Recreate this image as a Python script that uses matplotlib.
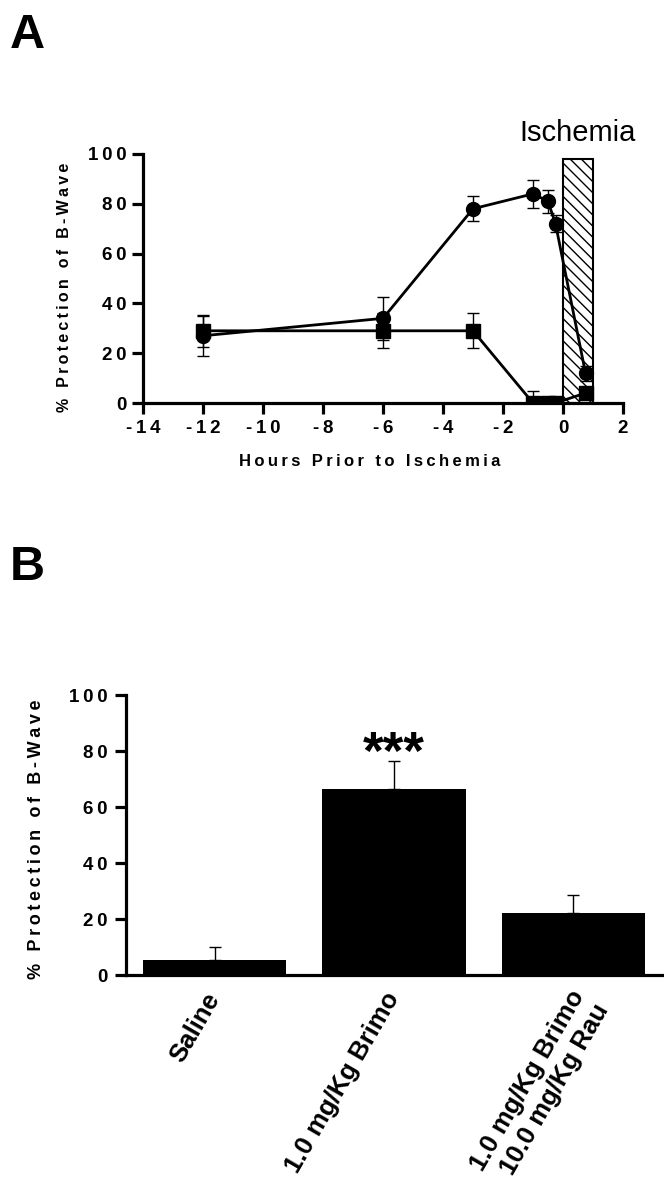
import matplotlib
matplotlib.use("Agg")
import matplotlib.pyplot as plt
from matplotlib.ticker import FuncFormatter
import numpy as np

plt.rcParams["font.family"] = ["Liberation Sans", "DejaVu Sans"]
plt.rcParams["hatch.linewidth"] = 1.0
plt.rcParams["axes.unicode_minus"] = False

# Panel A: time course, hours prior to ischemia
circle_x = [-12, -6, -3, -1, -0.5, -0.25, 0.75]
circle_y = [27, 34, 78, 84, 81, 72, 12]
circle_err = [8, 8.5, 5, 5.5, 4.5, 3.5, 3]

square_x = [-12, -6, -3, -1, -0.5, -0.25, 0.75]
square_y = [29, 29, 29, 0, 0, 0, 4]
square_err = [6.5, 7, 7, 4.7, 0, 0, 2]

ischemia_start = 0
ischemia_len = 1
ischemia_top = 98

# Panel B: bar chart
groups = ["Saline", "1.0 mg/Kg Brimo", "1.0 mg/Kg Brimo\n10.0 mg/Kg Rau"]
bar_vals = [5.4, 66.5, 22.3]
bar_err = [4.6, 10, 6.2]

THIN = "\u2009"


def spaced(s, gap=THIN):
    return gap.join(s)


tick_fmt = FuncFormatter(lambda v, p: spaced(f"{v:g}"))
spine_w = 2.3

fig = plt.figure(figsize=(6.64, 11.93), dpi=100)

# ---- A
ax = fig.add_axes([143 / 664, 1 - 403 / 1193, 480 / 664, 249 / 1193])
ax.bar(ischemia_start, ischemia_top, width=ischemia_len, align="edge",
       facecolor="white", edgecolor="black", hatch="\\\\\\", linewidth=1.5, zorder=1)
ax.errorbar(circle_x, circle_y, yerr=circle_err, fmt="-o", color="black",
            ms=10, lw=2, elinewidth=1, capsize=4, capthick=1, zorder=3)
ax.errorbar(square_x, square_y, yerr=square_err, fmt="-s", color="black",
            ms=10, lw=2, elinewidth=1, capsize=4, capthick=1, zorder=3)
ax.set_xlim(-14, 2)
ax.set_ylim(0, 100)
ax.set_xticks(np.arange(-14, 3, 2))
ax.set_yticks(np.arange(0, 101, 20))
ax.xaxis.set_major_formatter(tick_fmt)
ax.yaxis.set_major_formatter(tick_fmt)
for s in ["top", "right"]:
    ax.spines[s].set_visible(False)
for s in ["left", "bottom"]:
    ax.spines[s].set_linewidth(spine_w)
ax.tick_params(width=spine_w, length=8, direction="out", pad=4,
               labelsize=13.5)
for lab in ax.get_xticklabels() + ax.get_yticklabels():
    lab.set_fontweight("bold")
ax.set_xlabel(spaced("Hours Prior to Ischemia"), fontsize=12, fontweight="bold")
ax.xaxis.set_label_coords(0.473, -0.205)
ax.set_ylabel(spaced("% Protection of B-Wave"), fontsize=11.5, fontweight="bold")
ax.yaxis.set_label_coords(-0.148, 0.466)
ax.text(0.5, 103, "Ischemia", fontsize=21, ha="center", va="bottom", clip_on=False)

fig.text(10 / 664, 1 - 48 / 1193, "A", fontsize=35, fontweight="bold", va="baseline")
fig.text(10 / 664, 1 - 580 / 1193, "B", fontsize=35, fontweight="bold", va="baseline")

# ---- B
bx = fig.add_axes([126 / 664, 1 - 975 / 1193, 538 / 664, 280 / 1193])
pos = np.arange(len(groups))
bx.bar(pos, bar_vals, width=0.8, color="black",
       yerr=[np.zeros(len(bar_err)), bar_err],
       error_kw=dict(elinewidth=1, capsize=4, capthick=1, ecolor="black"))
bx.set_xlim(-0.494, 2.506)
bx.set_ylim(0, 100)
bx.set_yticks(np.arange(0, 101, 20))
bx.yaxis.set_major_formatter(tick_fmt)
bx.set_xticks(pos)
label_kw = dict(rotation=60, ha="right", va="center", rotation_mode="anchor",
                fontsize=18.5, fontweight="bold")
# the two-line label sits a bit further right in the original, so it is
# drawn separately with an offset
bx.set_xticklabels(groups[:2] + [""], **label_kw)
bx.annotate(groups[2], xy=(pos[2], 0), xycoords=("data", "axes fraction"),
            xytext=(13, -17), textcoords="offset points",
            multialignment="right", **label_kw)
for s in ["top", "right"]:
    bx.spines[s].set_visible(False)
for s in ["left", "bottom"]:
    bx.spines[s].set_linewidth(spine_w)
bx.tick_params(axis="y", width=spine_w, length=8, direction="out", pad=5,
               labelsize=13.5)
bx.tick_params(axis="x", length=0, pad=14)
for lab in bx.get_yticklabels():
    lab.set_fontweight("bold")
bx.set_ylabel(spaced("% Protection of B-Wave"), fontsize=13, fontweight="bold")
bx.yaxis.set_label_coords(-0.15, 0.485)
bx.text(pos[1], 73.5, "***", fontsize=38, fontweight="bold",
        ha="center", va="baseline")

fig.savefig("out.png", dpi=100)
